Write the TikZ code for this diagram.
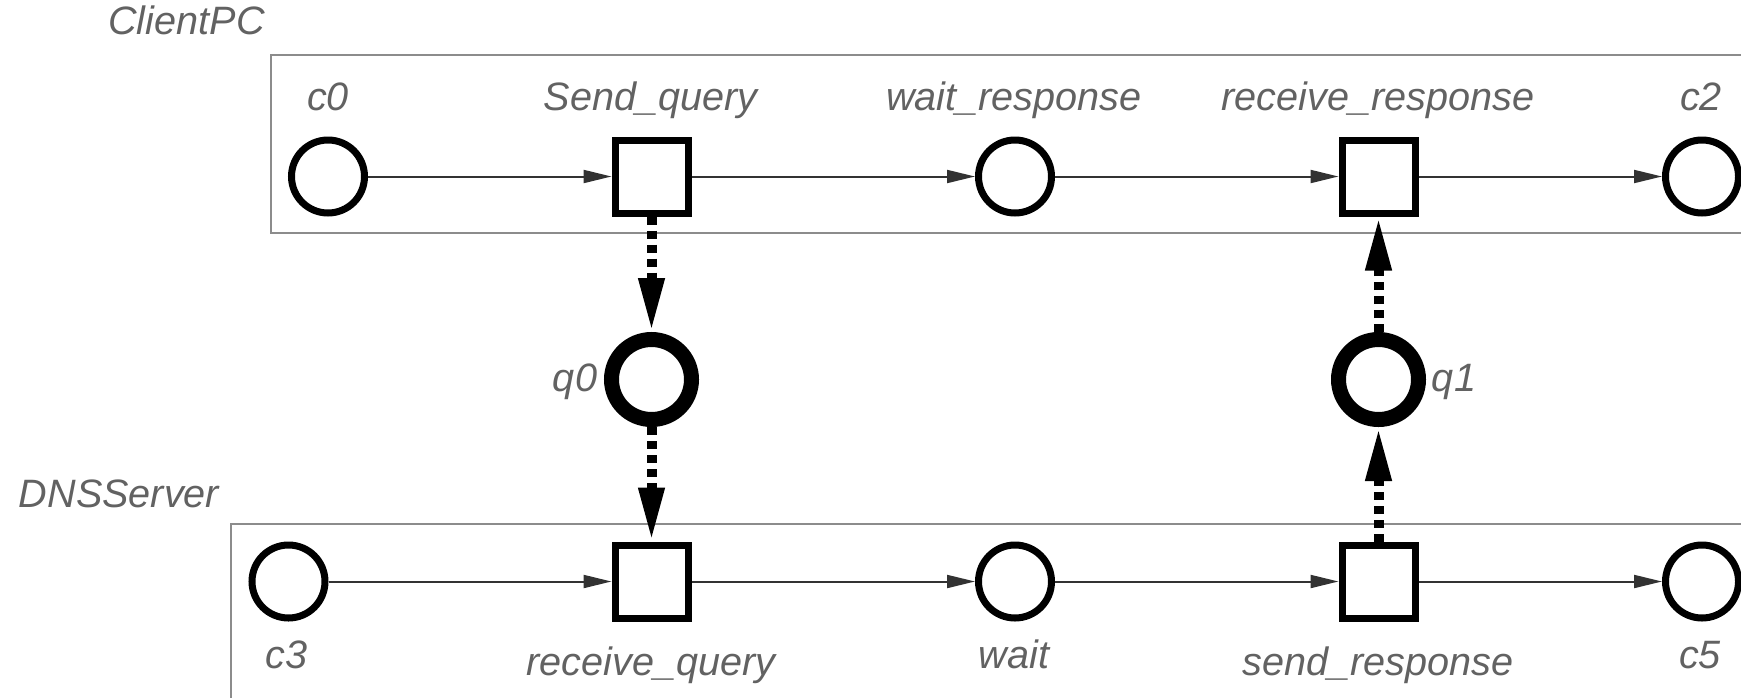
\documentclass[tikz,border=0pt]{standalone}
\usepackage{fontspec}
\setmainfont{Liberation Sans}
\usetikzlibrary{arrows.meta}
\definecolor{txtgray}{RGB}{98,98,98}
\definecolor{boxgray}{RGB}{140,140,140}
\definecolor{flowcol}{RGB}{50,50,50}
\tikzset{
  place/.style={circle, draw=black, line width=3.5pt, minimum size=36.5pt, inner sep=0pt, fill=white},
  trans/.style={rectangle, draw=black, line width=3.5pt, minimum size=36.5pt, inner sep=0pt, fill=white},
  chan/.style={circle, draw=black, line width=7.5pt, minimum size=40pt, inner sep=0pt, fill=white},
  lbl/.style={text=txtgray, inner sep=0pt, font=\fontsize{19.8}{24}\selectfont\itshape},
  flow/.style={draw=flowcol, line width=1pt, -{Triangle[length=14pt,width=6.5pt]}},
  chanarrow/.style={draw=black, line width=5pt, dash pattern=on 4pt off 3pt, -{Triangle[length=27pt,width=12pt]}},
  boxline/.style={draw=boxgray, line width=1.2pt}
}
\begin{document}
\begin{tikzpicture}[x=0.5pt,y=-0.5pt]
\useasboundingbox (0,0) rectangle (1741,697);
\clip (0,0) rectangle (1741,697);
% container boxes
\draw[boxline] (271,55) rectangle (1800,233);
\draw[boxline] (231,524) rectangle (1800,760);
% group titles
\node[lbl, anchor=base] (tclient) at (186.5,34) {ClientPC};
\node[lbl, anchor=base] (tdns) at (119,507) {DNSServer};
% top row
\node[place] (c0) at (328,176.5) {};
\node[trans] (sendq) at (651.5,176.5) {};
\node[place] (waitr) at (1015,176.5) {};
\node[trans] (recvr) at (1378.5,176.5) {};
\node[place] (c2) at (1702,176.5) {};
% channels
\node[chan] (q0) at (651.5,379.5) {};
\node[chan] (q1) at (1378.5,379.5) {};
% bottom row
\node[place] (c3) at (288.5,581.5) {};
\node[trans] (recvq) at (651.5,581.5) {};
\node[place] (waitd) at (1015,581.5) {};
\node[trans] (sendr) at (1378.5,581.5) {};
\node[place] (c5) at (1702,581.5) {};
% labels top
\node[lbl, anchor=base] (lc0) at (328,110.5) {c0};
\node[lbl, anchor=base] (lsendq) at (650.5,110.5) {Send\_query};
\node[lbl, anchor=base] (lwaitr) at (1014,110.5) {wait\_response};
\node[lbl, anchor=base] (lrecvr) at (1378,110.5) {receive\_response};
\node[lbl, anchor=base] (lc2) at (1701,110.5) {c2};
% labels channels
\node[lbl, anchor=base] (lq0) at (575,391) {q0};
\node[lbl, anchor=base] (lq1) at (1454,391) {q1};
% labels bottom
\node[lbl, anchor=base] (lc3) at (286.5,668) {c3};
\node[lbl, anchor=base] (lrecvq) at (651,675) {receive\_query};
\node[lbl, anchor=base] (lwaitd) at (1014,668) {wait};
\node[lbl, anchor=base] (lsendr) at (1378,675) {send\_response};
\node[lbl, anchor=base] (lc5) at (1700,668) {c5};
% flow arrows
\draw[flow] (c0) -- (sendq);
\draw[flow] (sendq) -- (waitr);
\draw[flow] (waitr) -- (recvr);
\draw[flow] (recvr) -- (c2);
\draw[flow] (c3) -- (recvq);
\draw[flow] (recvq) -- (waitd);
\draw[flow] (waitd) -- (sendr);
\draw[flow] (sendr) -- (c5);
% channel arrows
\draw[chanarrow] (sendq.south) -- (q0.north);
\draw[chanarrow] (q0.south) -- (recvq.north);
\draw[chanarrow] (sendr.north) -- (q1.south);
\draw[chanarrow] (q1.north) -- (recvr.south);
\end{tikzpicture}
\end{document}
